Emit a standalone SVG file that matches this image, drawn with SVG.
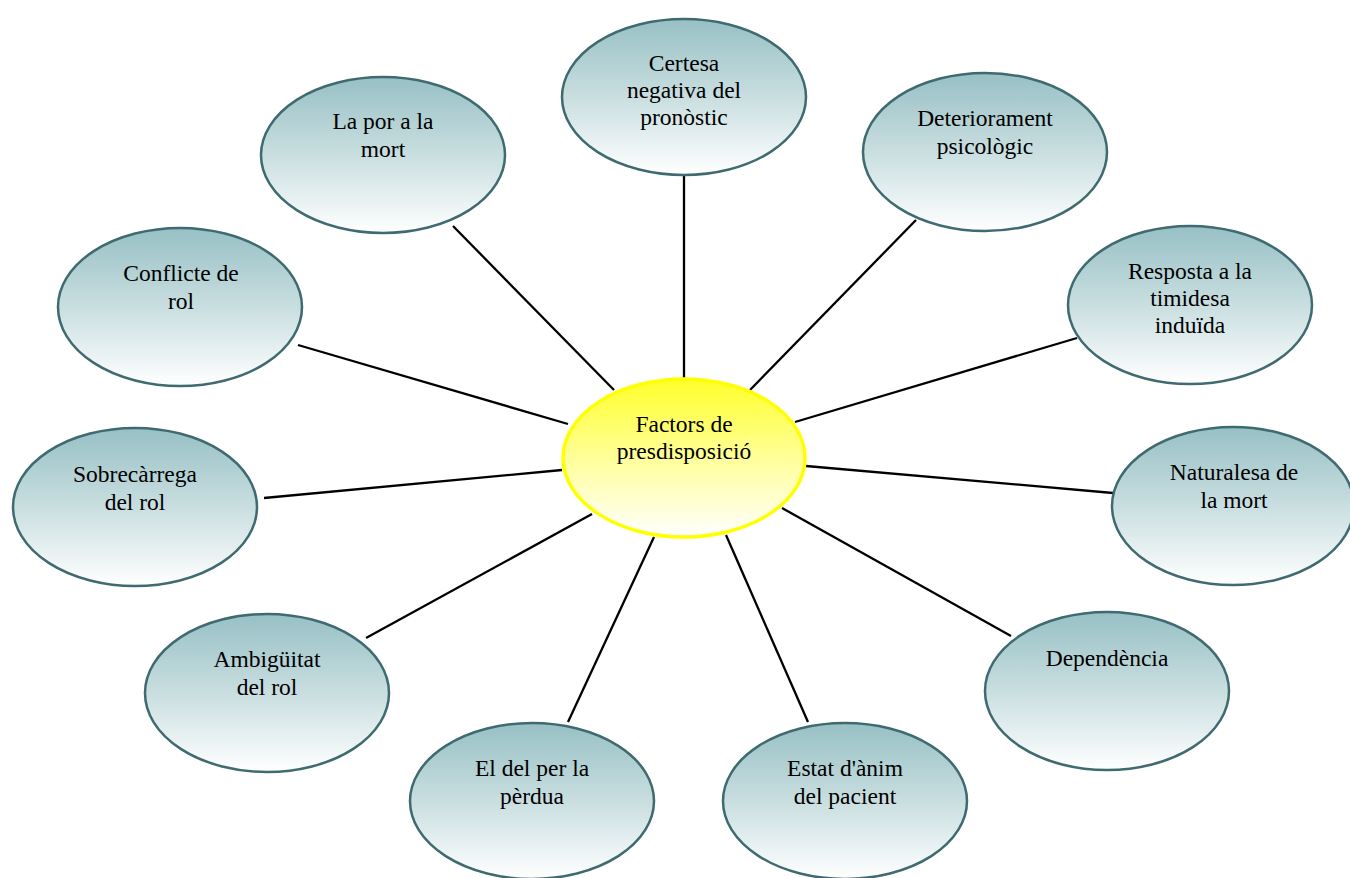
<svg xmlns="http://www.w3.org/2000/svg" width="1350" height="878" viewBox="0 0 1350 878">
<defs>
<linearGradient id="gb" x1="0" y1="0" x2="0" y2="1">
<stop offset="0" stop-color="#97c0c5"/>
<stop offset="0.5" stop-color="#c9dee0"/>
<stop offset="1" stop-color="#ffffff"/>
</linearGradient>
<linearGradient id="gy" x1="0" y1="0" x2="0" y2="1">
<stop offset="0" stop-color="#ffff2a"/>
<stop offset="0.5" stop-color="#ffff99"/>
<stop offset="1" stop-color="#ffffff"/>
</linearGradient>
</defs>
<style>
.n{fill:url(#gb);stroke:#3f6b70;stroke-width:2.5}
.c{fill:url(#gy);stroke:#ffff00;stroke-width:3.5}
text{font-family:"Liberation Serif","Times New Roman",serif;font-size:23.5px;fill:#000;text-anchor:middle}
#connectors line{stroke:#000;stroke-width:2.3}
</style>
<rect width="1350" height="878" fill="#ffffff"/>
<g id="connectors">
<line x1="684" y1="176" x2="684" y2="379"/>
<line x1="453" y1="226" x2="614" y2="390"/>
<line x1="916" y1="220" x2="750" y2="390"/>
<line x1="298" y1="345" x2="568" y2="424"/>
<line x1="1077" y1="338" x2="795" y2="422"/>
<line x1="264" y1="498" x2="562" y2="470"/>
<line x1="1113" y1="493" x2="806" y2="466"/>
<line x1="366" y1="638" x2="592" y2="514"/>
<line x1="1011" y1="636" x2="782" y2="508"/>
<line x1="568" y1="722" x2="654" y2="537"/>
<line x1="808" y1="722" x2="726" y2="535"/>
</g>
<g id="center">
<ellipse class="c" cx="684" cy="458" rx="121" ry="79"/>
<text x="684" y="432">Factors de</text>
<text x="684" y="459">presdisposició</text>
</g>
<g id="certesa">
<ellipse class="n" cx="684" cy="97" rx="122" ry="78"/>
<text x="684" y="71">Certesa</text>
<text x="684" y="98">negativa del</text>
<text x="684" y="125">pronòstic</text>
</g>
<g id="por">
<ellipse class="n" cx="383" cy="155" rx="122" ry="78"/>
<text x="383" y="129">La por a la</text>
<text x="383" y="157">mort</text>
</g>
<g id="deteriorament">
<ellipse class="n" cx="985" cy="152" rx="122" ry="79"/>
<text x="985" y="126">Deteriorament</text>
<text x="985" y="154">psicològic</text>
</g>
<g id="conflicte">
<ellipse class="n" cx="180" cy="307" rx="122" ry="79"/>
<text x="181" y="281">Conflicte de</text>
<text x="181" y="309">rol</text>
</g>
<g id="resposta">
<ellipse class="n" cx="1190" cy="305" rx="122" ry="79"/>
<text x="1190" y="279">Resposta a la</text>
<text x="1190" y="306">timidesa</text>
<text x="1190" y="333">induïda</text>
</g>
<g id="sobrecarrega">
<ellipse class="n" cx="135" cy="507" rx="122" ry="79"/>
<text x="135" y="482">Sobrecàrrega</text>
<text x="135" y="510">del rol</text>
</g>
<g id="naturalesa">
<ellipse class="n" cx="1233" cy="506" rx="121" ry="79"/>
<text x="1234" y="480">Naturalesa de</text>
<text x="1234" y="508">la mort</text>
</g>
<g id="ambiguitat">
<ellipse class="n" cx="267" cy="693" rx="122" ry="79"/>
<text x="267" y="667">Ambigüitat</text>
<text x="267" y="695">del rol</text>
</g>
<g id="dependencia">
<ellipse class="n" cx="1107" cy="691" rx="122" ry="79"/>
<text x="1107" y="666">Dependència</text>
</g>
<g id="perdua">
<ellipse class="n" cx="532" cy="801" rx="122" ry="78"/>
<text x="532" y="776">El del per la</text>
<text x="532" y="804">pèrdua</text>
</g>
<g id="estat">
<ellipse class="n" cx="845" cy="801" rx="122" ry="78"/>
<text x="845" y="776">Estat d'ànim</text>
<text x="845" y="804">del pacient</text>
</g>
</svg>
